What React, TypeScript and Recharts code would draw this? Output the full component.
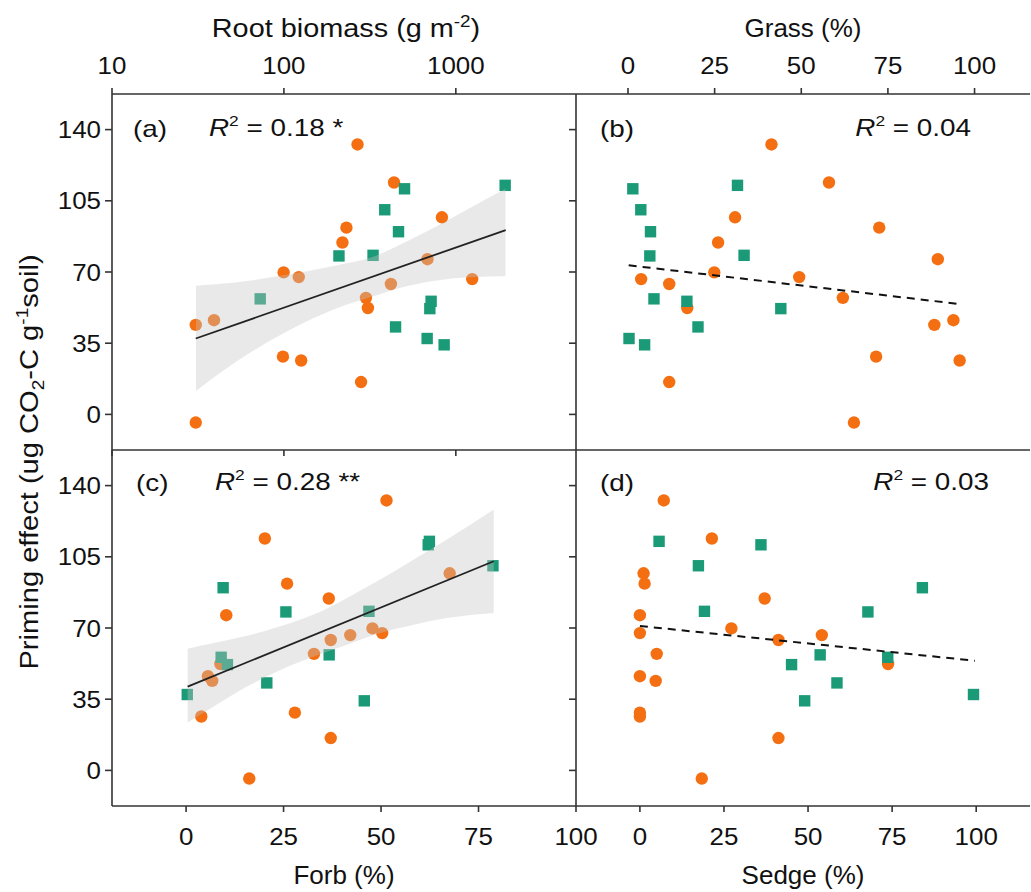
import React from 'react';
import { ComposedChart, Scatter, Line, Area, XAxis, YAxis } from 'recharts';

// ---------------- data ----------------
// Orange circles (18 sites): priming effect and the four predictors
const orangeY = [132.7, 114.0, 96.9, 91.8, 84.5, 76.3, 69.8, 67.5, 66.5, 64.1, 57.3, 52.3, 46.3, 44.0, 28.4, 26.5, 15.9, -4.0];
const orangeRoot = [268, 437, 830, 231, 219, 684, 99.6, 122, 1245, 419, 300, 308, 39.2, 30.7, 98.7, 126, 281, 30.7];
const orangeGrass = [41.4, 58.0, 30.9, 72.5, 26.0, 89.4, 24.9, 49.4, 3.8, 11.9, 62.0, 17.1, 93.9, 88.4, 71.6, 95.7, 11.9, 65.2];
const orangeForb = [51.4, 20.2, 67.6, 25.9, 36.6, 10.3, 47.8, 50.3, 42.1, 37.1, 32.8, 8.8, 5.6, 6.7, 27.9, 3.9, 37.1, 16.2];
const orangeSedge = [7.1, 21.4, 1.1, 1.4, 37.1, 0, 27.2, 0, 54.1, 41.2, 5.0, 73.8, 0, 4.7, 0, 0, 41.2, 18.4];

// Green squares (12 sites)
const greenY = [112.6, 110.9, 100.6, 89.8, 77.9, 78.2, 56.8, 55.6, 52.0, 43.0, 37.3, 34.2];
const greenRoot = [1936, 503, 386, 464, 209, 330, 72.8, 718, 706, 446, 681, 855];
const greenGrass = [31.6, 1.4, 3.7, 6.5, 6.3, 33.5, 7.5, 17.0, 44.1, 20.2, 0.3, 4.8];
const greenForb = [62.4, 62.1, 78.7, 9.5, 25.6, 46.9, 36.7, 9.0, 10.6, 20.7, 0.3, 45.7];
const greenSedge = [5.7, 36.0, 17.4, 84.0, 67.8, 19.2, 53.6, 73.7, 45.1, 58.6, 99.2, 49.0];

// Fitted lines (end points)
const fitRootX = [30.7, 1950];
const fitRootY = [37.3, 90.6];
const fitGrassX = [0.2, 95.9];
const fitGrassY = [73.3, 54.2];
const fitForbX = [0.4, 78.9];
const fitForbY = [41.2, 102.8];
const fitSedgeX = [0, 99.6];
const fitSedgeY = [71.0, 53.9];

// Confidence bands
const bandRootX = [30.8, 51.9, 101.4, 198, 324, 483, 755, 1179, 1945];
const bandRootLo = [11.5, 25.5, 40.3, 51.8, 57.8, 62.4, 65.7, 67.4, 67.9];
const bandRootHi = [63.3, 64.9, 68.5, 73.1, 77.2, 83.8, 92.0, 101.0, 110.9];
const bandForbX = [0.4, 7.1, 15.6, 24.2, 32.7, 41.3, 49.8, 58.4, 66.9, 78.9];
const bandForbLo = [23.5, 31.4, 41.2, 49.4, 56.0, 61.8, 67.5, 71.6, 74.9, 77.4];
const bandForbHi = [59.8, 62.6, 66.2, 70.8, 76.6, 84.8, 93.8, 103.7, 113.5, 128.3];

// Ticks
const yTicks = [0, 35, 70, 105, 140];
const rootTicks = [10, 100, 1000];
const pctTicks = [0, 25, 50, 75, 100];

// ---------------- helpers ----------------
const pts = (xs: number[], ys: number[]) => xs.map((x, i) => ({ x, y: ys[i] }));
const band = (xs: number[], lo: number[], hi: number[]) => xs.map((x, i) => ({ x, range: [lo[i], hi[i]] }));

const W = 1031;
const H = 892;
const X0 = 112;
const XM = 576;
const X1 = 1030;
const Y0 = 94;
const YM = 450;
const Y1 = 806;
const Y_DOMAIN: [number, number] = [-17.5, 157.5];

const FONT = '"Liberation Sans", Arial, Helvetica, sans-serif';
const TXT = '#111111';
const AX = '#333333';
const ORANGE = '#F46F12';
const GREEN = '#1B9A77';
const SX_TICK = 1.08;
const SX_LAB = 1.16;

const axisStyle = { stroke: AX, strokeWidth: 1.6 };

const Circle = (p: any) => <circle cx={p.cx} cy={p.cy} r={6.2} fill={ORANGE} />;
const Square = (p: any) => <rect x={p.cx - 5.7} y={p.cy - 5.7} width={11.4} height={11.4} fill={GREEN} />;

const Txt = ({ x, y, anchor = 'start', size = 24, sx = 1, children }: any) => (
  <text
    transform={`translate(${x},${y}) scale(${sx},1)`}
    textAnchor={anchor}
    fontFamily={FONT}
    fontSize={size}
    fill={TXT}
  >
    {children}
  </text>
);

const Empty = () => <g />;
const TopTick = (p: any) => (
  <Txt x={p.x} y={Y0 - 20} anchor="middle" sx={SX_TICK}>
    {p.payload.value}
  </Txt>
);
const BottomTick = (p: any) => (
  <Txt x={p.x} y={Y1 + 39} anchor="middle" sx={SX_TICK}>
    {p.payload.value}
  </Txt>
);
const LeftTick = (p: any) => (
  <Txt x={p.x} y={p.y + 8.5} anchor="end" sx={SX_TICK}>
    {p.payload.value}
  </Txt>
);

const R2 = ({ x, y, anchor = 'start', value }: any) => (
  <text
    transform={`translate(${x},${y}) scale(${SX_LAB},1)`}
    textAnchor={anchor}
    fontFamily={FONT}
    fontSize={24}
    fill={TXT}
  >
    <tspan fontStyle="italic">R</tspan>
    <tspan dy={-10} fontSize={15}>2</tspan>
    <tspan dy={10}>{` = ${value}`}</tspan>
  </text>
);

const titleA = () => (
  <text
    transform={`translate(${(X0 + XM) / 2 + 2},37) scale(1.11,1)`}
    textAnchor="middle"
    fontFamily={FONT}
    fontSize={26}
    fill={TXT}
  >
    Root biomass (g m<tspan dy={-10} fontSize={17}>-2</tspan>
    <tspan dy={10}>)</tspan>
  </text>
);
const titleB = () => (
  <text x={(XM + X1) / 2} y={37} textAnchor="middle" fontFamily={FONT} fontSize={26} fill={TXT}>
    Grass (%)
  </text>
);
const titleC = () => (
  <text x={(X0 + XM) / 2} y={884} textAnchor="middle" fontFamily={FONT} fontSize={26} fill={TXT}>
    Forb (%)
  </text>
);
const titleD = () => (
  <text x={(XM + X1) / 2} y={884} textAnchor="middle" fontFamily={FONT} fontSize={26} fill={TXT}>
    Sedge (%)
  </text>
);

const labelsA = () => (
  <g>
    <text
      transform="translate(38,462) rotate(-90) scale(1.12,1)"
      textAnchor="middle"
      fontFamily={FONT}
      fontSize={26}
      fill={TXT}
    >
      Priming effect (ug CO<tspan dy={6} fontSize={17}>2</tspan>
      <tspan dy={-6}>-C g</tspan>
      <tspan dy={-10} fontSize={17}>-1</tspan>
      <tspan dy={10}>soil)</tspan>
    </text>
    <Txt x={133} y={137} sx={SX_LAB}>(a)</Txt>
    <R2 x={209} y={136} value="0.18 *" />
  </g>
);
const labelsB = () => (
  <g>
    <Txt x={600} y={137} sx={SX_LAB}>(b)</Txt>
    <R2 x={971} y={136} anchor="end" value="0.04" />
  </g>
);
const labelsC = () => (
  <g>
    <Txt x={136} y={491} sx={SX_LAB}>(c)</Txt>
    <R2 x={215} y={490} value="0.28 **" />
  </g>
);
const labelsD = () => (
  <g>
    <Txt x={600} y={491} sx={SX_LAB}>(d)</Txt>
    <R2 x={989} y={490} anchor="end" value="0.03" />
  </g>
);

const Layer = ({ children }: any) => (
  <div style={{ position: 'absolute', left: 0, top: 0, width: W, height: H }}>{children}</div>
);

const yAxisCommon = {
  yAxisId: 'l',
  type: 'number' as const,
  dataKey: 'y',
  domain: Y_DOMAIN,
  allowDataOverflow: true,
  ticks: yTicks,
  interval: 0 as const,
  axisLine: axisStyle,
  tickLine: axisStyle,
  tickSize: 7,
  tickMargin: 4,
};

export default function App() {
  return (
    <div style={{ position: 'absolute', left: 0, top: 0, width: W, height: H, overflow: 'hidden', background: '#ffffff' }}>
      {/* Panel (a) */}
      <Layer>
        <ComposedChart width={W} height={H} margin={{ top: Y0 - 60, left: X0 - 60, right: W - XM, bottom: H - YM - 10 }}>
          <XAxis
            xAxisId="t"
            orientation="top"
            type="number"
            dataKey="x"
            scale="log"
            domain={[10, 5000]}
            allowDataOverflow
            ticks={rootTicks}
            interval={0}
            height={60}
            tickSize={6}
            axisLine={axisStyle}
            tickLine={axisStyle}
            tick={TopTick}
            label={titleA}
          />
          <XAxis
            xAxisId="b"
            orientation="bottom"
            type="number"
            dataKey="x"
            scale="log"
            domain={[10, 5000]}
            allowDataOverflow
            ticks={rootTicks}
            interval={0}
            height={10}
            tickSize={6}
            axisLine={axisStyle}
            tickLine={axisStyle}
            tick={Empty}
          />
          <YAxis {...yAxisCommon} width={60} tick={LeftTick} label={labelsA} />
          <Scatter xAxisId="t" yAxisId="l" data={pts(orangeRoot, orangeY)} shape={Circle} isAnimationActive={false} />
          <Scatter xAxisId="t" yAxisId="l" data={pts(greenRoot, greenY)} shape={Square} isAnimationActive={false} />
          <Area
            xAxisId="t"
            yAxisId="l"
            data={band(bandRootX, bandRootLo, bandRootHi)}
            dataKey="range"
            type="monotone"
            stroke="none"
            fill="#c6c6c6"
            fillOpacity={0.38}
            isAnimationActive={false}
            zIndex={650}
          />
          <Line
            xAxisId="t"
            yAxisId="l"
            data={pts(fitRootX, fitRootY)}
            dataKey="y"
            stroke="#222"
            strokeWidth={1.8}
            dot={false}
            isAnimationActive={false}
            zIndex={700}
          />
        </ComposedChart>
      </Layer>

      {/* Panel (b) */}
      <Layer>
        <ComposedChart width={W} height={H} margin={{ top: Y0 - 60, left: XM - 10, right: W - X1, bottom: H - YM - 2 }}>
          <XAxis
            xAxisId="t"
            orientation="top"
            type="number"
            dataKey="x"
            domain={[-15, 116]}
            allowDataOverflow
            ticks={pctTicks}
            interval={0}
            height={60}
            tickSize={6}
            axisLine={axisStyle}
            tickLine={axisStyle}
            tick={TopTick}
            label={titleB}
          />
          <XAxis
            xAxisId="b"
            orientation="bottom"
            type="number"
            dataKey="x"
            domain={[-15, 116]}
            allowDataOverflow
            ticks={pctTicks}
            height={2}
            axisLine={axisStyle}
            tickLine={false}
            tick={Empty}
          />
          <YAxis {...yAxisCommon} width={10} tick={Empty} label={labelsB} />
          <Scatter xAxisId="t" yAxisId="l" data={pts(orangeGrass, orangeY)} shape={Circle} isAnimationActive={false} />
          <Scatter xAxisId="t" yAxisId="l" data={pts(greenGrass, greenY)} shape={Square} isAnimationActive={false} />
          <Line
            xAxisId="t"
            yAxisId="l"
            data={pts(fitGrassX, fitGrassY)}
            dataKey="y"
            stroke="#111"
            strokeWidth={2}
            strokeDasharray="8 6"
            dot={false}
            isAnimationActive={false}
            zIndex={700}
          />
        </ComposedChart>
      </Layer>

      {/* Panel (c) */}
      <Layer>
        <ComposedChart width={W} height={H} margin={{ top: YM, left: X0 - 60, right: W - XM, bottom: H - Y1 - 80 }}>
          <XAxis
            xAxisId="b"
            orientation="bottom"
            type="number"
            dataKey="x"
            domain={[-19, 100]}
            allowDataOverflow
            ticks={pctTicks}
            interval={0}
            height={80}
            tickSize={6}
            axisLine={axisStyle}
            tickLine={axisStyle}
            tick={BottomTick}
            label={titleC}
          />
          <YAxis {...yAxisCommon} width={60} tick={LeftTick} label={labelsC} />
          <Scatter xAxisId="b" yAxisId="l" data={pts(orangeForb, orangeY)} shape={Circle} isAnimationActive={false} />
          <Scatter xAxisId="b" yAxisId="l" data={pts(greenForb, greenY)} shape={Square} isAnimationActive={false} />
          <Area
            xAxisId="b"
            yAxisId="l"
            data={band(bandForbX, bandForbLo, bandForbHi)}
            dataKey="range"
            type="monotone"
            stroke="none"
            fill="#c6c6c6"
            fillOpacity={0.38}
            isAnimationActive={false}
            zIndex={650}
          />
          <Line
            xAxisId="b"
            yAxisId="l"
            data={pts(fitForbX, fitForbY)}
            dataKey="y"
            stroke="#222"
            strokeWidth={1.8}
            dot={false}
            isAnimationActive={false}
            zIndex={700}
          />
        </ComposedChart>
      </Layer>

      {/* Panel (d) */}
      <Layer>
        <ComposedChart width={W} height={H} margin={{ top: YM, left: XM - 10, right: W - X1, bottom: H - Y1 - 80 }}>
          <XAxis
            xAxisId="b"
            orientation="bottom"
            type="number"
            dataKey="x"
            domain={[-19, 116]}
            allowDataOverflow
            ticks={pctTicks}
            interval={0}
            height={80}
            tickSize={6}
            axisLine={axisStyle}
            tickLine={axisStyle}
            tick={BottomTick}
            label={titleD}
          />
          <YAxis {...yAxisCommon} width={10} tick={Empty} label={labelsD} />
          <Scatter xAxisId="b" yAxisId="l" data={pts(orangeSedge, orangeY)} shape={Circle} isAnimationActive={false} />
          <Scatter xAxisId="b" yAxisId="l" data={pts(greenSedge, greenY)} shape={Square} isAnimationActive={false} />
          <Line
            xAxisId="b"
            yAxisId="l"
            data={pts(fitSedgeX, fitSedgeY)}
            dataKey="y"
            stroke="#111"
            strokeWidth={2}
            strokeDasharray="8 6"
            dot={false}
            isAnimationActive={false}
            zIndex={700}
          />
        </ComposedChart>
      </Layer>
    </div>
  );
}
